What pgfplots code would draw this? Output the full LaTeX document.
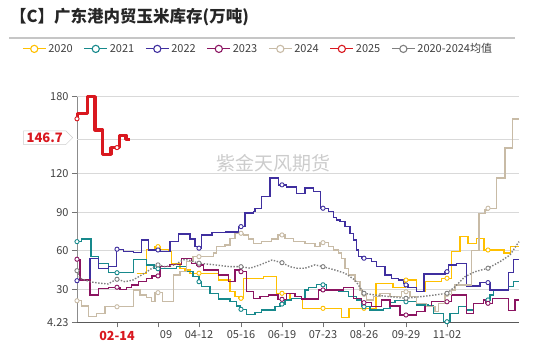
\documentclass[border=0pt]{standalone}
\usepackage{fontspec}
\setmainfont{Noto Sans CJK SC}
\usepackage{pgfplots}
\pgfplotsset{compat=1.18}
\usetikzlibrary{shapes.symbols}
\definecolor{c20}{HTML}{FFC000}
\definecolor{c21}{HTML}{17898C}
\definecolor{c22}{HTML}{3F2F9F}
\definecolor{c23}{HTML}{8B1461}
\definecolor{c24}{HTML}{C8BBA6}
\definecolor{c25}{HTML}{D9181F}
\definecolor{cavg}{HTML}{7F7F7F}
\definecolor{txt}{HTML}{404040}
\begin{document}
\begin{tikzpicture}[x=1pt,y=1pt]
\useasboundingbox (0,0) rectangle (550,346);
\node[anchor=west, font=\fontsize{16.5}{19}\selectfont\bfseries, text=black!85, inner sep=0pt] at (10,329) {【C】广东港内贸玉米库存(万吨)};
\draw[gray!45, line width=1.2pt] (9,308) -- (515,308);
\node[font=\fontsize{19}{22}\selectfont, text=gray!40] at (273.5,183) {紫金天风期货};
\begin{axis}[
  at={(77pt,23.6pt)}, anchor=south west, scale only axis,
  width=442pt, height=225.8pt,
  xmin=77, xmax=519, ymin=4.23, ymax=180,
  axis x line*=bottom, axis y line*=left,
  x axis line style={black!65, line width=1.2pt, -},
  y axis line style={black!45, line width=0.9pt, -},
  xtick={117,158,199,241,282,323,364,406,447},
  xticklabels={{\color{c25}\bfseries\fontsize{12.5}{14}\selectfont 02-14},{\phantom{03-}09},04-12,05-16,06-19,07-23,08-26,09-29,11-02},
  ytick={4.23,30,60,90,120,180},
  yticklabels={4.23,30,60,90,120,180},
  extra y ticks={146.7}, extra y tick labels={},
  extra y tick style={major tick length=0pt},
  ymajorgrids, grid style={black!15, line width=0.8pt},
  tick align=outside, major tick length=5pt,
  tick style={black!55, line width=0.9pt},
  ticklabel style={font=\fontsize{11}{13}\selectfont, text=txt},
  clip=false,
  legend columns=7,
  legend style={at={(-0.1244,1.2113)}, anchor=west, draw=none, fill=none,
    font=\fontsize{11}{13}\selectfont, text=txt, inner sep=0pt,
    /tikz/every even column/.append style={column sep=9pt}},
  legend image code/.code={\draw[#1, line width=1.1pt] (0pt,0pt) -- (23pt,0pt); \draw[#1, fill=white, line width=1.1pt] (11.5pt,0pt) circle (3.6pt);},
]
\addlegendimage{c20}\addlegendentry{2020}
\addlegendimage{c21}\addlegendentry{2021}
\addlegendimage{c22}\addlegendentry{2022}
\addlegendimage{c23}\addlegendentry{2023}
\addlegendimage{c24}\addlegendentry{2024}
\addlegendimage{c25}\addlegendentry{2025}
\addlegendimage{cavg}\addlegendentry{2020-2024均值}

% 2020
\addplot[const plot, c20, line width=1.4pt, forget plot] coordinates {
(136.7,42.5)(146.7,61)(155,63.2)(160,61.2)(168.3,59.3)(171.7,50.3)(180,46.4)(185,45)(190,42.5)(218.3,37.2)(230,28.1)(235,24.2)(239,23)(243.3,38.6)(263.3,39.8)(276.7,26.9)(290,23)(302.3,15.2)(341.7,8.2)(349,15.2)(376,34.7)(393,31.6)(405,37.2)(416.7,28.1)(425,35.9)(441.7,38.6)(451.7,59.3)(460,71)(468,65.8)(476.7,69.7)(484,60.6)(504,58.1)(510.5,63.2)(519,63.2)};
% 2021
\addplot[const plot, c21, line width=1.4pt, forget plot] coordinates {
(77,67.1)(81.7,69)(91,55.4)(98.3,50.3)(108.3,42.9)(133.3,53.4)(146.7,49)(154,46)(176.7,47.6)(186.7,43.7)(193,40)(199,35.9)(201.7,32)(210,26.9)(218.3,22.4)(230,20.3)(236.7,17)(240,14.4)(246.7,10.5)(255,11.8)(261.7,13.9)(275,16.4)(280,18.5)(285,21.7)(291.7,23)(305,29.5)(308.3,31.6)(316.7,33.5)(326.7,30)(338.3,28.1)(348.3,24.2)(356.7,21.7)(361.7,16.4)(370,13.9)(383.3,15.2)(390,19.9)(395,21.1)(406,20.3)(416.7,17.8)(428.3,17)(433.3,11.3)(443.3,4.75)(450,11.3)(458.3,16.4)(466.7,13.9)(473.3,19.1)(483.3,21.7)(490,25.6)(493.3,29.5)(508.3,32)(513.3,35.9)(519,35.9)};
% 2022
\addplot[const plot, c22, line width=1.4pt, forget plot] coordinates {
(77,36.7)(90,54.2)(98.3,46.4)(108.3,47.6)(116.7,61.2)(123.3,59.3)(133.3,58.5)(141.7,68.4)(148.3,60.6)(160,59.5)(170,67.1)(178.3,72.9)(190,69)(195,63.2)(198,62)(201.7,72.3)(212,74)(226,74.5)(238.3,78.8)(245,89.5)(253.3,90.5)(255,93.1)(261.7,102.2)(270,116.5)(278.3,111.3)(286.7,109.5)(296.7,104.8)(305,108.7)(313.3,106)(320.7,93.1)(328.3,90.5)(333.3,86.1)(336.7,84)(340,82.7)(345,78.8)(350,73.6)(353.3,68.4)(356.7,60.6)(358.3,55.4)(362,54.2)(371.7,51.5)(376.7,47.6)(385,41.1)(391.7,38.6)(398.3,37.2)(403.3,34.7)(405,33.4)(408,31.6)(416.7,28.1)(424,41.9)(445,43.7)(448.3,49)(456.7,50.3)(466.7,32.6)(480,35.2)(490,29.5)(508.3,43)(513.3,53.4)(519,53.4)};
% 2023
\addplot[const plot, c23, line width=1.4pt, forget plot] coordinates {
(77,53.4)(80,37.2)(90,25.6)(98.3,30.8)(108.3,31.6)(120,30)(126.7,31.6)(131.7,33.4)(138.3,35.9)(146.7,38.6)(152,40.4)(160,47.6)(170,49.5)(181.7,54.2)(191.7,50.3)(197,49)(203.3,45)(218.3,41.1)(228.3,35.9)(235,45)(240,43.7)(246.7,28.1)(253.3,23)(260,24.2)(268.3,25.6)(278,22.2)(286.7,26.9)(295,24.2)(301.7,22.4)(318.3,29.5)(343.3,31.6)(353.3,23)(361.7,19.6)(371.7,16.4)(381.7,21.7)(390,17)(400,10)(416.7,12.5)(425,16.4)(431.7,20.3)(451.7,25.6)(466.7,11.3)(473.3,19.1)(483.3,21.7)(486,19.1)(492.3,23)(508.3,13.3)(515,21.7)(519,21.7)};
% 2024
\addplot[const plot, c24, line width=1.4pt, forget plot] coordinates {
(77,21.1)(81.7,17)(88.3,8.6)(96.7,11.3)(105,16.4)(133.3,29.5)(140,25.6)(146.7,23.5)(151.7,20.3)(155,27.4)(162.7,20.3)(173.3,41.1)(180,43.7)(186.7,51.5)(193,55.4)(213.3,58.1)(216.7,63.2)(225,64.5)(230,69.7)(235,73.6)(243.3,72.3)(248.3,69)(253.3,65.8)(261.7,67.1)(271.7,69)(278,72.3)(285,69.7)(293.3,67.1)(305,65.8)(315,63.2)(320,66.3)(328.3,63.2)(333.3,60.6)(338.3,58.1)(341.7,54.2)(345,46.4)(348.3,41.1)(355,35.9)(360,29.5)(362,26.1)(366.7,21.7)(373.3,24.2)(380,26.9)(390,24.2)(401.7,28.1)(410,24.2)(416.7,19.1)(426.7,16.4)(435,12.5)(438.3,19.1)(445,26.1)(451.7,29.5)(455,33.4)(471.7,60)(479,89.2)(485,91.8)(488,93.1)(496.7,116.5)(505,139.9)(512.5,162.5)(519,162.5)};
% 2025
\addplot[const plot, c25, line width=3.2pt, line join=round, forget plot] coordinates {
(77,162.7)(77.3,167)(87.3,180)(95,154)(102.7,135)(111,140.3)(119.3,150)(126,146.7)(130,146.7)};
% average
\addplot[cavg, line width=1.4pt, dash pattern=on 1.4pt off 1.6pt, forget plot] coordinates {
(77,44.5)(80,38.6)(90,35.9)(100,34.7)(108,34.1)(115,37.2)(117,37.8)(125,35.9)(133,37.2)(140,40.4)(147,43.7)(152,46.4)(158,49)(165,47.6)(175,49)(180,51.5)(185,53.4)(199,50.3)(215,49)(230,47.6)(241,47.6)(250,46.4)(260,49)(272,52.8)(282,50.7)(290,47.6)(297,46.4)(305,46.4)(315,49)(323,47.6)(335,45)(345,42.5)(355,37.2)(364,26.9)(375,25.6)(390,24.2)(406,23)(420,24.2)(435,25.6)(447,26.9)(455,32)(465,39.8)(475,43.7)(488,46.4)(500,51.5)(510,56.7)(519,67.1)};

% markers
\pgfplotsset{mk/.style={only marks, mark=*, mark size=2.1pt, forget plot, mark options={draw=#1, fill=white, line width=0.9pt}}}
\addplot[mk=c20] coordinates {(158,63.2)(199,42.5)(241,23)(282,26.9)(323,15.2)(364,15.2)(406,37.2)(447,38.6)(488,60.6)};
\addplot[mk=c21] coordinates {(77,67.1)(117,42.9)(158,46)(199,35.9)(241,14.4)(282,18.5)(323,33.5)(364,16.4)(406,20.3)(447,4.75)(488,21.7)};
\addplot[mk=c22] coordinates {(77,36.7)(117,61.2)(158,60.6)(199,62)(241,78.8)(282,111.3)(323,93.1)(364,54.2)(406,33.4)(447,43.7)(488,35.2)};
\addplot[mk=c23] coordinates {(77,53.4)(117,31.6)(158,40.4)(199,49)(241,43.7)(282,22.2)(323,29.5)(364,19.6)(406,10)(447,20.3)(488,19.1)};
\addplot[mk=c24] coordinates {(77,21.1)(117,16.4)(158,27.4)(199,55.4)(241,73.6)(282,72.3)(323,66.3)(364,26.1)(406,28.1)(447,26.1)(488,93.1)};
\addplot[mk=cavg] coordinates {(77,44.5)(117,37.8)(158,49)(199,50.3)(241,47.6)(282,50.7)(323,47.6)(364,26.9)(406,23)(447,26.9)(488,46.4)};
\addplot[mk=c25] coordinates {(77,162.7)(117,140.3)};

\node[signal, signal to=east, draw=black!20, fill=white, text=c25, font=\bfseries\fontsize{13}{15}\selectfont, inner xsep=3pt, inner ysep=2pt, anchor=east, xshift=-4pt] at (axis cs:77,148) {146.7};
\end{axis}
\end{tikzpicture}
\end{document}
